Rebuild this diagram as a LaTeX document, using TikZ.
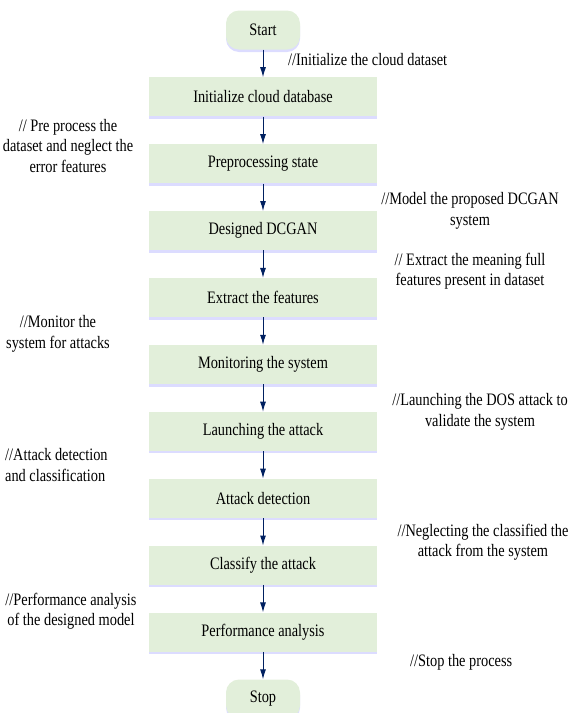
\documentclass[tikz,border=0pt]{standalone}
\usepackage{fontspec}
\setmainfont{Liberation Serif}[FakeStretch=0.82]
\usetikzlibrary{positioning,shadows,chains,arrows.meta}
\definecolor{boxgreen}{RGB}{226,239,218}
\definecolor{arrownavy}{RGB}{0,32,96}
\tikzset{
	stepbox/.style={
		rectangle,
		fill=boxgreen,
		minimum width=228pt,
		minimum height=39pt,
		drop shadow={shadow xshift=0pt, shadow yshift=-2.5pt, fill=blue!30, opacity=0.45}
	},
	terminal/.style={stepbox, rounded corners=13pt, minimum width=74pt},
	note/.style={align=center, inner sep=0pt},
	flow/.style={draw=arrownavy, line width=1pt, -{Latex[length=10pt,width=6pt]}}
}

\begin{document}
\begin{tikzpicture}[x=1pt, y=-1pt, start chain=going below, node distance=27.5pt, every node/.style={font=\fontsize{17.5}{20.5}\selectfont}]
	\useasboundingbox (0,0) rectangle (571,713);
	% main flow
	\node [on chain, terminal] (start) at (263,30) {Start};
	\node [on chain, stepbox] (init) {Initialize cloud database};
	\node [on chain, stepbox] (prep) {Preprocessing state};
	\node [on chain, stepbox] (dcgan) {Designed DCGAN};
	\node [on chain, stepbox] (extract) {Extract the features};
	\node [on chain, stepbox] (monitor) {Monitoring the system};
	\node [on chain, stepbox] (launch) {Launching the attack};
	\node [on chain, stepbox] (detect) {Attack detection};
	\node [on chain, stepbox] (classify) {Classify the attack};
	\node [on chain, stepbox] (perf) {Performance analysis};
	\node [on chain, terminal] (stop) {Stop};
	\foreach \a/\b in {start/init, init/prep, prep/dcgan, dcgan/extract, extract/monitor, monitor/launch, launch/detect, detect/classify, classify/perf, perf/stop}
		\draw [flow] (\a) -- (\b);
	% comments
	\node [note, anchor=west] (cinit) at (288,60) {//Initialize the cloud dataset};
	\node [note] (cprep) at (68,146) {// Pre process the\\dataset and neglect the\\error features};
	\node [note] (cdcgan) at (470,211) {//Model the proposed DCGAN\\system};
	\node [note] (cextract) at (470,271) {// Extract the meaning full\\features present in dataset};
	\node [note] (cmonitor) at (58,334) {//Monitor the\\system for attacks};
	\node [note] (claunch) at (480,412) {//Launching the DOS attack to\\validate the system};
	\node [note, align=left, anchor=west] (cdetect) at (5,465) {//Attack detection\\and classification};
	\node [note] (cclassify) at (483,542) {//Neglecting the classified the\\attack from the system};
	\node [note] (cperf) at (71,611) {//Performance analysis\\of the designed model};
	\node [note, anchor=west] (cstop) at (410,662) {//Stop the process};
\end{tikzpicture}
\end{document}
